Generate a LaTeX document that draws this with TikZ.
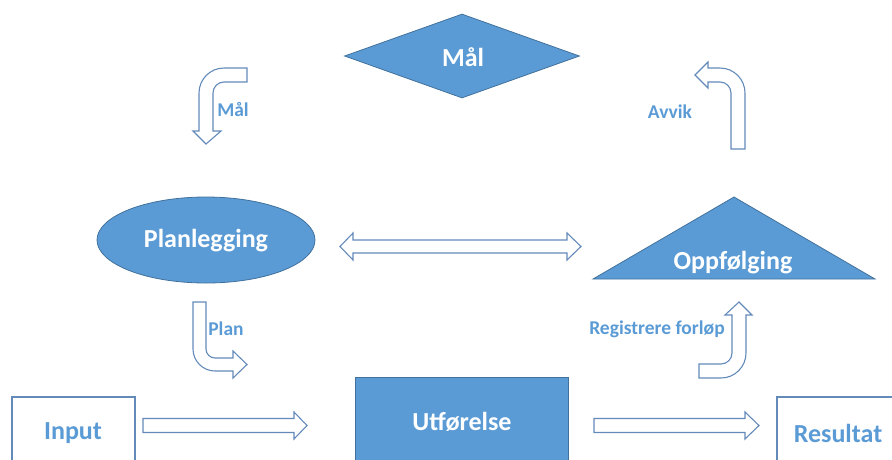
\documentclass[tikz,border=0pt]{standalone}
\usepackage{fontspec}
\setmainfont{Carlito}
\usetikzlibrary{shapes.geometric}
\definecolor{fillblue}{HTML}{5B9BD5}
\definecolor{edgeblue}{HTML}{41719C}
\definecolor{lineblue}{RGB}{100,138,186}
\definecolor{txtblue}{HTML}{5B9BD5}
\tikzset{
  filled/.style={fill=fillblue, draw=edgeblue, line width=0.8pt},
  outl/.style={draw=lineblue, line width=1.1pt, fill=white, line join=miter},
  bigtxt/.style={font=\bfseries\fontsize{26}{30}\selectfont, text=white, inner sep=0pt},
  boxtxt/.style={font=\bfseries\fontsize{26}{30}\selectfont, text=txtblue, inner sep=0pt},
  lbl/.style={font=\bfseries\fontsize{19.5}{23}\selectfont, text=txtblue, inner sep=0pt},
}
\begin{document}
\begin{tikzpicture}[x=1pt,y=-1pt]
\useasboundingbox (0,0) rectangle (892,459);
\clip (0,0) rectangle (892,459);
% Goal diamond
\node[diamond, filled, minimum width=235pt, minimum height=84pt, inner sep=0pt] (mal) at (462,56) {};
\node[bigtxt] (maltxt) at (463,57) {Mål};
% Planning ellipse
\node[ellipse, filled, minimum width=218pt, minimum height=86pt, inner sep=0pt] (plan) at (206,240) {};
\node[bigtxt] (plantxt) at (206,241) {Planlegging};
% Follow-up triangle
\path[filled] (593,279) -- (734,197) -- (875,279) -- cycle;
\node[bigtxt] (oppf) at (733,263) {Oppfølging};
% Execution box
\node[rectangle, filled, minimum width=213pt, minimum height=100pt, inner sep=0pt] (utf) at (461.5,427) {};
\node[bigtxt] (utftxt) at (462,422) {Utførelse};
% Input / Result boxes
\node[rectangle, draw=lineblue, line width=1.1pt, minimum width=123pt, minimum height=80pt, inner sep=0pt] (inp) at (73.5,437) {};
\node[boxtxt] (inptxt) at (73,433) {Input};
\node[rectangle, draw=lineblue, line width=1.1pt, minimum width=130pt, minimum height=80pt, inner sep=0pt] (res) at (842,437) {};
\node[boxtxt] (restxt) at (838,433) {Resultat};
% Straight block arrows
\path[outl] (143,418.5) -- (294,418.5) -- (294,412) -- (307,425.5) -- (294,439) -- (294,432.5) -- (143,432.5) -- cycle;
\path[outl] (594,418.5) -- (745,418.5) -- (745,412) -- (759,425.5) -- (745,439) -- (745,432.5) -- (594,432.5) -- cycle;
% Double arrow
\path[outl] (340,246.5) -- (353,233) -- (353,240) -- (567,240) -- (567,233) -- (581,246.5) -- (567,260) -- (567,253) -- (353,253) -- (353,260) -- cycle;
% Bent arrow "Mål"
\path[outl] (247,68) -- (224,68) .. controls (210.2,68) and (199,79.2) .. (199,93) -- (199,131) -- (193,131) -- (206,144) -- (221,131) -- (213,131) -- (213,93) .. controls (213,86.9) and (217.9,82) .. (224,82) -- (247,82) -- cycle;
\node[lbl] (lmal) at (233,110) {Mål};
% Bent arrow "Avvik"
\path[outl] (745,149) -- (745,93) .. controls (745,79.2) and (733.8,68) .. (720,68) -- (708,68) -- (708,62) -- (695,75) -- (708,88) -- (708,82) -- (720,82) .. controls (726.1,82) and (731,86.9) .. (731,93) -- (731,149) -- cycle;
\node[lbl] (lavvik) at (670,112) {Avvik};
% Bent arrow "Plan"
\path[outl] (193,302) -- (193,349) .. controls (193,361.1) and (202.9,371) .. (215,371) -- (233,371) -- (233,378) -- (247,364.5) -- (233,351) -- (233,358) -- (215,358) .. controls (210,358) and (206,354) .. (206,349) -- (206,302) -- cycle;
\node[lbl] (lplan) at (226,329) {Plan};
% Bent arrow "Registrere forløp"
\path[outl] (699,378) -- (721,378) .. controls (734.8,378) and (746,366.8) .. (746,353) -- (746,315) -- (752,315) -- (739,302) -- (725,315) -- (732,315) -- (732,353) .. controls (732,359.1) and (727.1,364) .. (721,364) -- (699,364) -- cycle;
\node[lbl] (lreg) at (657,329) {Registrere forløp};
\end{tikzpicture}
\end{document}
